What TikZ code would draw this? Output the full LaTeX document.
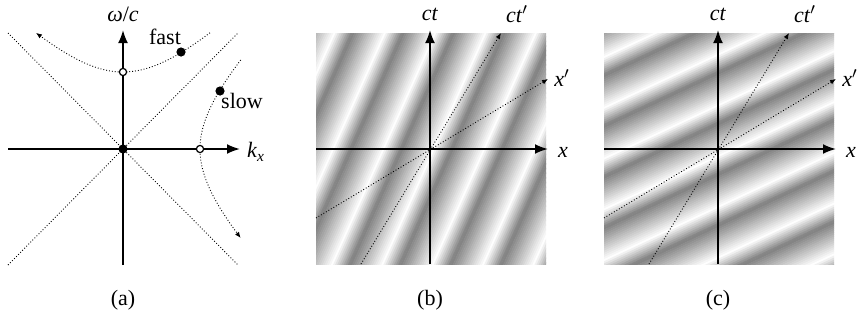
\documentclass[tikz,border=0pt]{standalone}
\usepackage{fontspec}
\setmainfont{Liberation Serif}
\usetikzlibrary{arrows.meta,positioning}

\colorlet{stripedark}{black!50}
\newcommand{\vr}[1]{\textit{#1}}
% one panel of wave fronts: period, offset of the strips
\newcommand{\wavefronts}[2]{%
  \foreach \k in {-5,...,4} {
    \foreach \j in {0,...,23} {
      \pgfmathsetmacro{\tt}{(\j+0.5)/24}
      \pgfmathsetmacro{\bw}{\tt<0.65 ? 100*\tt/0.65 : 100*(1-\tt)/0.35}
      \fill[white!\bw!stripedark]
        ({\k*#1+#2+\j*#1/24-0.2},-175) rectangle
        ({\k*#1+#2+(\j+1)*#1/24+0.2},175);
    }
  }%
}

\begin{document}
\begin{tikzpicture}[
    x=0.5pt, y=0.5pt,
    font=\fontsize{11}{13}\selectfont,
    axis/.style={line width=1pt, -{Latex[length=6.5pt,width=5pt]}},
    guide/.style={line width=0.45pt, densely dotted},
    guidearrow/.style={guide, -{Latex[length=3pt,width=2.4pt]}},
    opendot/.style={circle, draw, fill=white, line width=0.6pt,
      inner sep=0pt, minimum size=3.6pt},
    fulldot/.style={circle, fill=black, inner sep=0pt, minimum size=4.6pt},
  ]
  \useasboundingbox (0,0) rectangle (865,323);

  % (a) dispersion curves
  \begin{scope}[shift={(123,174)}]
    \coordinate (a-W) at (-115,0);
    \coordinate (a-E) at (117,0);
    \coordinate (a-S) at (0,-116);
    \coordinate (a-N) at (0,119);
    \coordinate (a-NW) at (-115,116);
    \coordinate (a-SE) at (115,-116);
    \coordinate (a-SW) at (-115,-116);
    \coordinate (a-NE) at (115,116);

    \draw[guide] (a-NW) -- (a-SE);
    \draw[guide] (a-SW) -- (a-NE);
    \draw[guidearrow] plot[domain=87:-87, samples=60, smooth]
      (\x, {sqrt(\x*\x+5929)});
    \draw[guidearrow] plot[domain=89:-89, samples=60, smooth]
      ({sqrt(\x*\x+5929)}, \x);

    \draw[axis] (a-W) -- (a-E);
    \draw[axis] (a-S) -- (a-N);

    \node[fulldot] (a-origin) at (0,0) {};
    \node[opendot] (a-top) at (0,77) {};
    \node[opendot] (a-right) at (77,0) {};
    \node[fulldot] (a-fastpt) at (58,97) {};
    \node[fulldot] (a-slowpt) at (97,58) {};

    \node (a-fast) at (42,112) {fast};
    \node (a-slow) at (119,48) {slow};
    \node (a-omega) at (0,135) {\vr{ω}/\vr{c}};
    \node (a-kx) at (133,-3) {\vr{k}\textsubscript{\vr{x}}};
    \node (a-cap) at (0,-151) {(a)};
  \end{scope}

  % (b) steep wave fronts
  \begin{scope}[shift={(430,174)}]
    \begin{scope}
      \clip (-114,-115) rectangle (116,116);
      \begin{scope}[rotate=-24]
        \wavefronts{46}{-25.9}
      \end{scope}
    \end{scope}
    \coordinate (b-W) at (-114,0);
    \coordinate (b-E) at (118,0);
    \coordinate (b-S) at (0,-115);
    \coordinate (b-N) at (0,119);
    \coordinate (b-ctS) at (-69,-115);
    \coordinate (b-ctN) at (71,116);
    \coordinate (b-xW) at (-114,-69);
    \coordinate (b-xE) at (118,70);

    \draw[guidearrow] (b-ctS) -- (b-ctN);
    \draw[guidearrow] (b-xW) -- (b-xE);
    \draw[axis] (b-W) -- (b-E);
    \draw[axis] (b-S) -- (b-N);

    \node (b-ct) at (0,135) {\vr{ct}};
    \node (b-ctp) at (87,135) {\vr{ct}$'$};
    \node (b-xp) at (132,71) {\vr{x}$'$};
    \node (b-x) at (133,-3) {\vr{x}};
    \node (b-cap) at (0,-151) {(b)};
  \end{scope}

  % (c) shallow wave fronts
  \begin{scope}[shift={(718,174)}]
    \begin{scope}
      \clip (-114,-115) rectangle (116,116);
      \begin{scope}[rotate=-65]
        \wavefronts{46}{-22.9}
      \end{scope}
    \end{scope}
    \coordinate (c-W) at (-114,0);
    \coordinate (c-E) at (118,0);
    \coordinate (c-S) at (0,-115);
    \coordinate (c-N) at (0,119);
    \coordinate (c-ctS) at (-69,-115);
    \coordinate (c-ctN) at (71,116);
    \coordinate (c-xW) at (-114,-69);
    \coordinate (c-xE) at (118,70);

    \draw[guidearrow] (c-ctS) -- (c-ctN);
    \draw[guidearrow] (c-xW) -- (c-xE);
    \draw[axis] (c-W) -- (c-E);
    \draw[axis] (c-S) -- (c-N);

    \node (c-ct) at (0,135) {\vr{ct}};
    \node (c-ctp) at (87,135) {\vr{ct}$'$};
    \node (c-xp) at (132,71) {\vr{x}$'$};
    \node (c-x) at (133,-3) {\vr{x}};
    \node (c-cap) at (0,-151) {(c)};
  \end{scope}
\end{tikzpicture}
\end{document}
